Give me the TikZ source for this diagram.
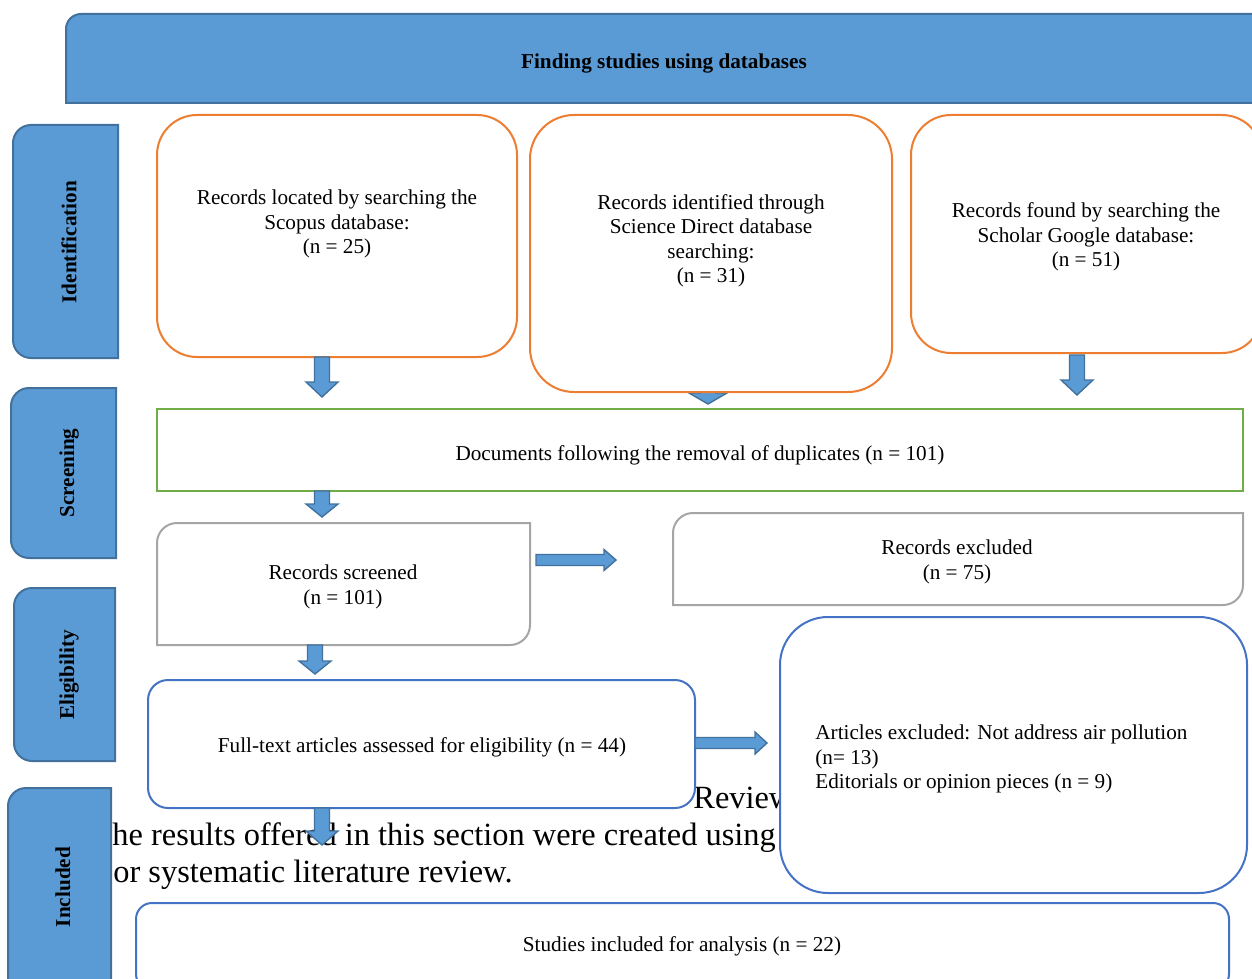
\documentclass[tikz,border=0pt]{standalone}
\usepackage{fontspec}
\setmainfont{Liberation Serif}
\definecolor{hdrfill}{HTML}{5B9BD5}
\definecolor{hdrline}{HTML}{41719C}
\definecolor{orng}{HTML}{ED7D31}
\definecolor{grn}{HTML}{70AD47}
\definecolor{gry}{HTML}{A5A5A5}
\definecolor{bln}{HTML}{4472C4}
\newcommand\snipbox[6]{\draw[#6] (#1,#2+#5) .. controls (#1,#2+0.448*#5) and (#1+0.448*#5,#2) .. (#1+#5,#2) -- (#3,#2) -- (#3,#4-#5) .. controls (#3,#4-0.448*#5) and (#3-0.448*#5,#4) .. (#3-#5,#4) -- (#1,#4) -- cycle;}
\newcommand\tabbox[6]{\draw[#6] (#3,#2) -- (#1+#5,#2) .. controls (#1+0.448*#5,#2) and (#1,#2+0.448*#5) .. (#1,#2+#5) -- (#1,#4-#5) .. controls (#1,#4-0.448*#5) and (#1+0.448*#5,#4) .. (#1+#5,#4) -- (#3,#4) -- cycle;}
\newcommand\darr[5]{\draw[blk] (#1-7.5,#2) -- (#1+7.5,#2) -- (#1+7.5,#3-#5) -- (#1+#4,#3-#5) -- (#1,#3) -- (#1-#4,#3-#5) -- (#1-7.5,#3-#5) -- cycle;}
\newcommand\rarr[5]{\draw[blk] (#2,#1-#4) -- (#3-12,#1-#4) -- (#3-12,#1-#5) -- (#3,#1) -- (#3-12,#1+#5) -- (#3-12,#1+#4) -- (#2,#1+#4) -- cycle;}
\begin{document}
\begin{tikzpicture}[x=0.5pt,y=-0.5pt,
  txt/.style={inner sep=0pt,align=center,font=\fontsize{10.6}{12.25}\selectfont},
  lbl/.style={inner sep=0pt,rotate=90,font=\fontsize{10.6}{12.25}\selectfont\bfseries},
  bg/.style={inner sep=0pt,font=\fontsize{16.2}{18.5}\selectfont},
  hdr/.style={fill=hdrfill,draw=hdrline,line width=1pt},
  obox/.style={fill=white,draw=orng,line width=1pt},
  gbox/.style={fill=white,draw=grn,line width=1pt},
  ybox/.style={fill=white,draw=gry,line width=1pt},
  bbox/.style={fill=white,draw=bln,line width=1pt},
  blk/.style={fill=hdrfill,draw=hdrline,line width=0.7pt}]
\useasboundingbox (0,0) rectangle (1252,979);
% background page text
\node[bg,anchor=base west] (bgrev) at (693,808) {Review};
\node[bg,anchor=base west] (bgl2) at (112,845) {he results offered in this section were created using};
\node[bg,anchor=base west] (bgl3) at (113,882) {or systematic literature review.};
% header
\draw[hdr] (66,103) -- (66,14+15) .. controls (66,14+0.448*15) and (66+0.448*15,14) .. (66+15,14) -- (1262,14) -- (1262,103) -- cycle;
\node[txt,font=\fontsize{10.6}{12.25}\selectfont\bfseries] (head) at (664,63) {Finding studies using databases};
% side labels
\tabbox{13}{125}{118}{358}{18}{hdr}
\tabbox{11}{388}{116}{558}{18}{hdr}
\tabbox{14}{588}{115}{761}{18}{hdr}
\tabbox{8}{788}{111}{1000}{18}{hdr}
\node[lbl] (lid) at (69,242) {Identification};
\node[lbl] (lsc) at (69,473) {Screening};
\node[lbl] (lel) at (69,675) {Eligibility};
\node[lbl] (lin) at (63,887) {Included};
% hidden arrow under Science Direct box
\darr{708}{365}{404}{19}{11}
% orange boxes
\draw[obox,rounded corners=20pt] (157,115) rectangle (517,357);
\draw[obox,rounded corners=22pt] (530,115) rectangle (892,392);
\draw[obox,rounded corners=20pt] (911,115) rectangle (1262,353);
\node[txt] (scopus) at (337,224) {Records located by searching the\\Scopus database:\\(n = 25)};
\node[txt] (scid) at (711,241) {Records identified through\\Science Direct database\\searching:\\(n = 31)};
\node[txt] (schol) at (1086,237) {Records found by searching the\\Scholar Google database:\\(n = 51)};
% screening
\draw[gbox] (157,409) rectangle (1243,491);
\node[txt] (dup) at (700,455) {Documents following the removal of duplicates (n = 101)};
\snipbox{157}{523}{530}{645}{20}{ybox}
\node[txt] (scr) at (343,587) {Records screened\\(n = 101)};
\snipbox{673}{513}{1243}{605}{20}{ybox}
\node[txt] (exc) at (957,562) {Records excluded\\(n = 75)};
% eligibility
\draw[bbox,rounded corners=10pt] (148,680) rectangle (695,808);
\node[txt] (full) at (422,747) {Full-text articles assessed for eligibility (n = 44)};
\draw[bbox,rounded corners=24pt] (780,617) rectangle (1247,893);
\node[txt,align=left,anchor=west] (artx) at (815,759) {Articles excluded: Not address air pollution\\(n= 13)\\Editorials or opinion pieces (n = 9)};
% included
\draw[bbox,rounded corners=8pt] (136,903) rectangle (1229,990);
\node[txt] (incl) at (682,946) {Studies included for analysis (n = 22)};
% block arrows
\darr{322}{357}{397}{16}{15}
\darr{1077}{355}{395}{16}{15}
\darr{322}{491}{517}{16}{13}
\darr{315}{645}{674}{16}{13}
\darr{322}{808}{845}{16}{14}
\rarr{560}{536}{616}{5.5}{10.5}
\rarr{743}{695}{767}{5.5}{11}
\end{tikzpicture}
\end{document}
